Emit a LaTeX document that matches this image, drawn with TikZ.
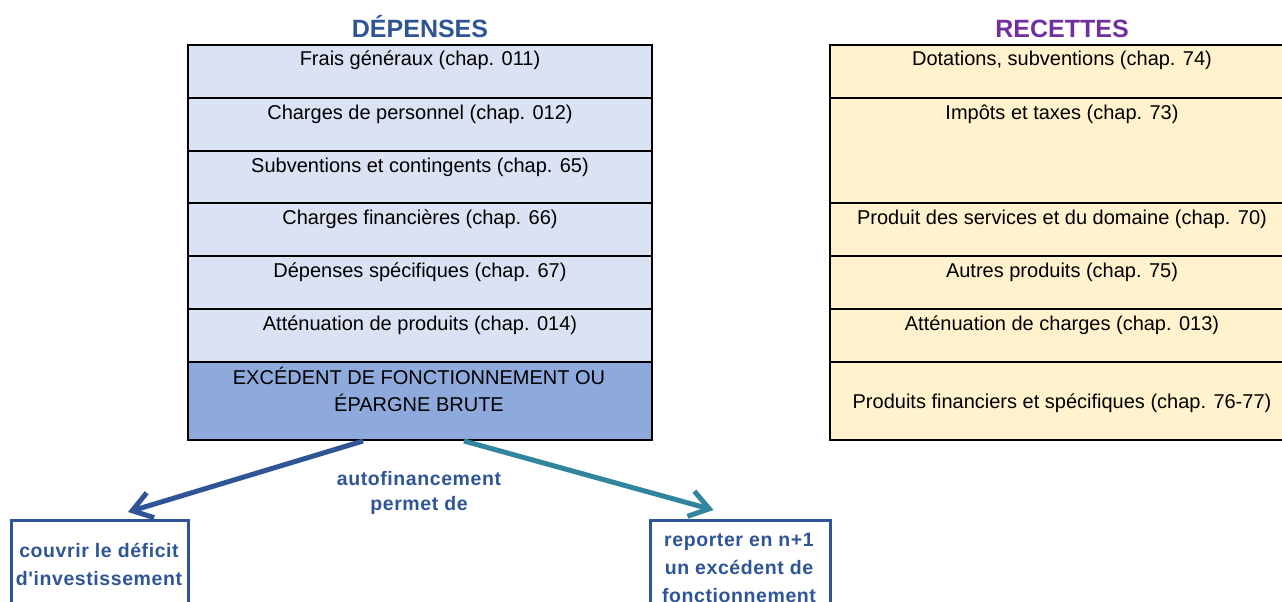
\documentclass[tikz,border=0pt]{standalone}
\usepackage{fontspec}
\setmainfont{Liberation Sans}
\newfontfamily\spacedsans[LetterSpace=3]{Liberation Sans}
\usetikzlibrary{arrows.meta}
\definecolor{depblue}{RGB}{47,85,151}
\definecolor{recpurple}{RGB}{112,48,160}
\definecolor{lightblue}{RGB}{218,227,243}
\definecolor{midblue}{RGB}{142,169,219}
\definecolor{lightyellow}{RGB}{255,242,204}
\definecolor{tealarrow}{RGB}{49,133,156}
\begin{document}
\begin{tikzpicture}[x=1pt,y=-1pt,
  cell/.style={draw=black, line width=2pt, rectangle, inner sep=0pt, minimum width=464pt, anchor=north west},
  depcell/.style={cell, fill=lightblue},
  depdark/.style={cell, fill=midblue},
  reccell/.style={cell, fill=lightyellow},
  celltext/.style={anchor=base, inner sep=0pt, font=\fontsize{20}{27}\selectfont, align=center},
  header/.style={anchor=base, inner sep=0pt, font=\fontsize{25}{30}\selectfont\bfseries},
  outbox/.style={draw=depblue, line width=3pt, rectangle, inner sep=0pt, anchor=north west},
  outtext/.style={inner sep=0pt, text=depblue, align=center, font=\fontsize{19.5}{28}\selectfont\spacedsans\bfseries},
  arrowbase/.style={line width=5pt, -{Straight Barb[length=19pt, width=26pt, line width=5pt]}}
]
\useasboundingbox (0,0) rectangle (1282,602);
\clip (0,0) rectangle (1282,602);
\fill[white] (0,0) rectangle (1282,602);

% DEPENSES column
\node[depcell, minimum height=53pt] (c1) at (187,44) {};
\node[depcell, minimum height=53pt] (c2) at (187,97) {};
\node[depcell, minimum height=52pt] (c3) at (187,150) {};
\node[depcell, minimum height=53pt] (c4) at (187,202) {};
\node[depcell, minimum height=53pt] (c5) at (187,255) {};
\node[depcell, minimum height=53pt] (c6) at (187,308) {};
\node[depdark, minimum height=78pt] (c7) at (187,361) {};

\node[header, text=depblue] (hdep) at ([yshift=6pt]c1.north) {DÉPENSES};
\node[celltext] (t1) at ([yshift=-22pt]c1.north) {Frais généraux (chap. 011)};
\node[celltext] (t2) at ([yshift=-22pt]c2.north) {Charges de personnel (chap. 012)};
\node[celltext] (t3) at ([yshift=-22pt]c3.north) {Subventions et contingents (chap. 65)};
\node[celltext] (t4) at ([yshift=-22pt]c4.north) {Charges financières (chap. 66)};
\node[celltext] (t5) at ([yshift=-22pt]c5.north) {Dépenses spécifiques (chap. 67)};
\node[celltext] (t6) at ([yshift=-22pt]c6.north) {Atténuation de produits (chap. 014)};
\node[celltext, anchor=center] (t7) at (419,389.5) {EXCÉDENT DE FONCTIONNEMENT OU\\ÉPARGNE BRUTE};

% RECETTES column
\node[reccell, minimum height=53pt] (r1) at (829,44) {};
\node[reccell, minimum height=105pt] (r2) at (829,97) {};
\node[reccell, minimum height=53pt] (r3) at (829,202) {};
\node[reccell, minimum height=53pt] (r4) at (829,255) {};
\node[reccell, minimum height=53pt] (r5) at (829,308) {};
\node[reccell, minimum height=78pt] (r6) at (829,361) {};

\node[header, text=recpurple] (hrec) at ([yshift=6pt]r1.north) {RECETTES};
\node[celltext] (u1) at ([yshift=-22pt]r1.north) {Dotations, subventions (chap. 74)};
\node[celltext] (u2) at ([yshift=-22pt]r2.north) {Impôts et taxes (chap. 73)};
\node[celltext] (u3) at ([yshift=-22pt]r3.north) {Produit des services et du domaine (chap. 70)};
\node[celltext] (u4) at ([yshift=-22pt]r4.north) {Autres produits (chap. 75)};
\node[celltext] (u5) at ([yshift=-22pt]r5.north) {Atténuation de charges (chap. 013)};
\node[celltext] (u6) at ([yshift=-7pt]r6.center) {Produits financiers et spécifiques (chap. 76-77)};

% Bottom boxes
\node[outbox, minimum width=177pt, minimum height=130pt] (bl) at (10,519) {};
\node[outbox, minimum width=180pt, minimum height=130pt] (br) at (649,519) {};
\node[outtext] (blt) at (99,564) {couvrir le déficit\\d'investissement};
\node[outtext] (brt) at (739,567.5) {reporter en n+1\\un excédent de\\fonctionnement};
\node[outtext, font=\fontsize{19.5}{25}\selectfont\spacedsans\bfseries] (mid) at (419,492.5) {autofinancement\\permet de};

% Arrows
\draw[arrowbase, draw=depblue] ([xshift=-57pt]c7.south) -- ([xshift=28pt, yshift=7pt]bl.north);
\draw[arrowbase, draw=tealarrow] ([xshift=44pt]c7.south) -- ([xshift=-27pt, yshift=9pt]br.north);
\end{tikzpicture}
\end{document}
